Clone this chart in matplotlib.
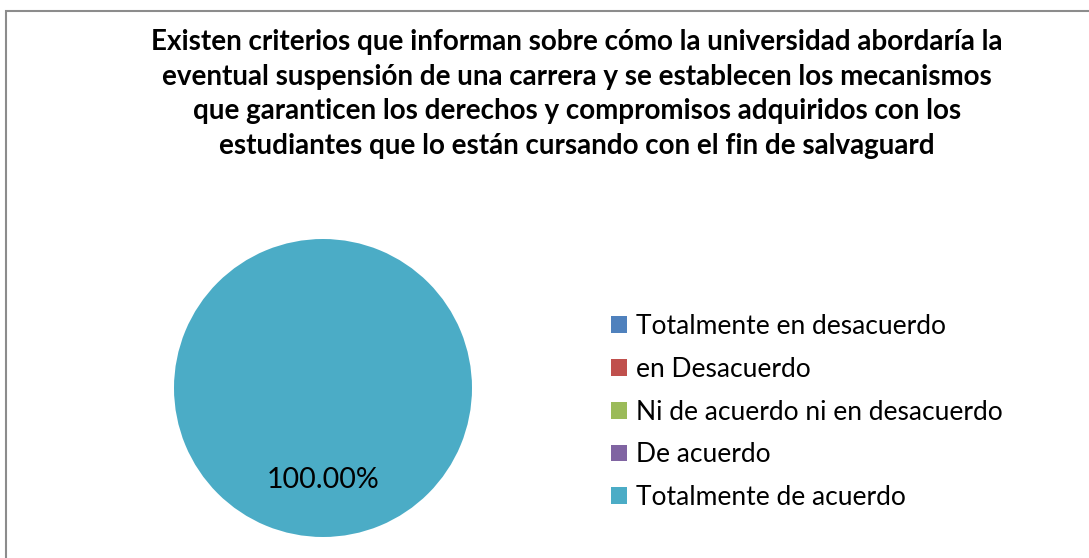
import matplotlib.pyplot as plt
from matplotlib.patches import Rectangle

categorias = ['Totalmente en desacuerdo', 'en Desacuerdo',
              'Ni de acuerdo ni en desacuerdo', 'De acuerdo',
              'Totalmente de acuerdo']
porcentajes = [0, 0, 0, 0, 100]
colores = ['#4f81bd', '#c0504d', '#9bbb59', '#8064a2', '#4bacc6']
titulo = ('Existen criterios que informan sobre cómo la universidad abordaría la\n'
          'eventual suspensión de una carrera y se establecen los mecanismos\n'
          'que garanticen los derechos y compromisos adquiridos con los\n'
          'estudiantes que lo están cursando con el fin de salvaguard')

plt.rcParams['font.family'] = ['Lato', 'DejaVu Sans']

fig = plt.figure(figsize=(10.89, 5.58), dpi=100)
W, H = 1089, 558

# marco del grafico (recortado a la derecha y abajo)
fig.patches.append(Rectangle((6 / W, -0.1), 1.2, (558 - 11) / H + 0.1,
                             transform=fig.transFigure, fill=False,
                             edgecolor='#8c8c8c', linewidth=1.5))

fig.text(577 / W, 1 - 94 / H, titulo, ha='center', va='center',
         fontsize=20, fontweight='bold', linespacing=1.4)

# pie: centro (323, 388), radio ~149 px
r = 149
ax = fig.add_axes([(323 - r) / W, 1 - (388 + r) / H, 2 * r / W, 2 * r / H])

def etiqueta(p):
    return '%.2f%%' % p if p > 0 else ''

wedges, _, autotexts = ax.pie(porcentajes, colors=colores, startangle=90,
                              counterclock=False, autopct=etiqueta,
                              pctdistance=0.62, radius=1,
                              wedgeprops=dict(linewidth=0),
                              textprops=dict(fontsize=20.5, color='black'))
ax.set_xlim(-1, 1)
ax.set_ylim(-1, 1)
ax.set_aspect('equal')

fig.legend(wedges, categorias, loc='center left',
           bbox_to_anchor=(587 / W, 1 - 412 / H), frameon=False,
           fontsize=19, handlelength=0.6, handleheight=0.6,
           handletextpad=0.35, labelspacing=0.67)

fig.savefig('out.png', dpi=100)
